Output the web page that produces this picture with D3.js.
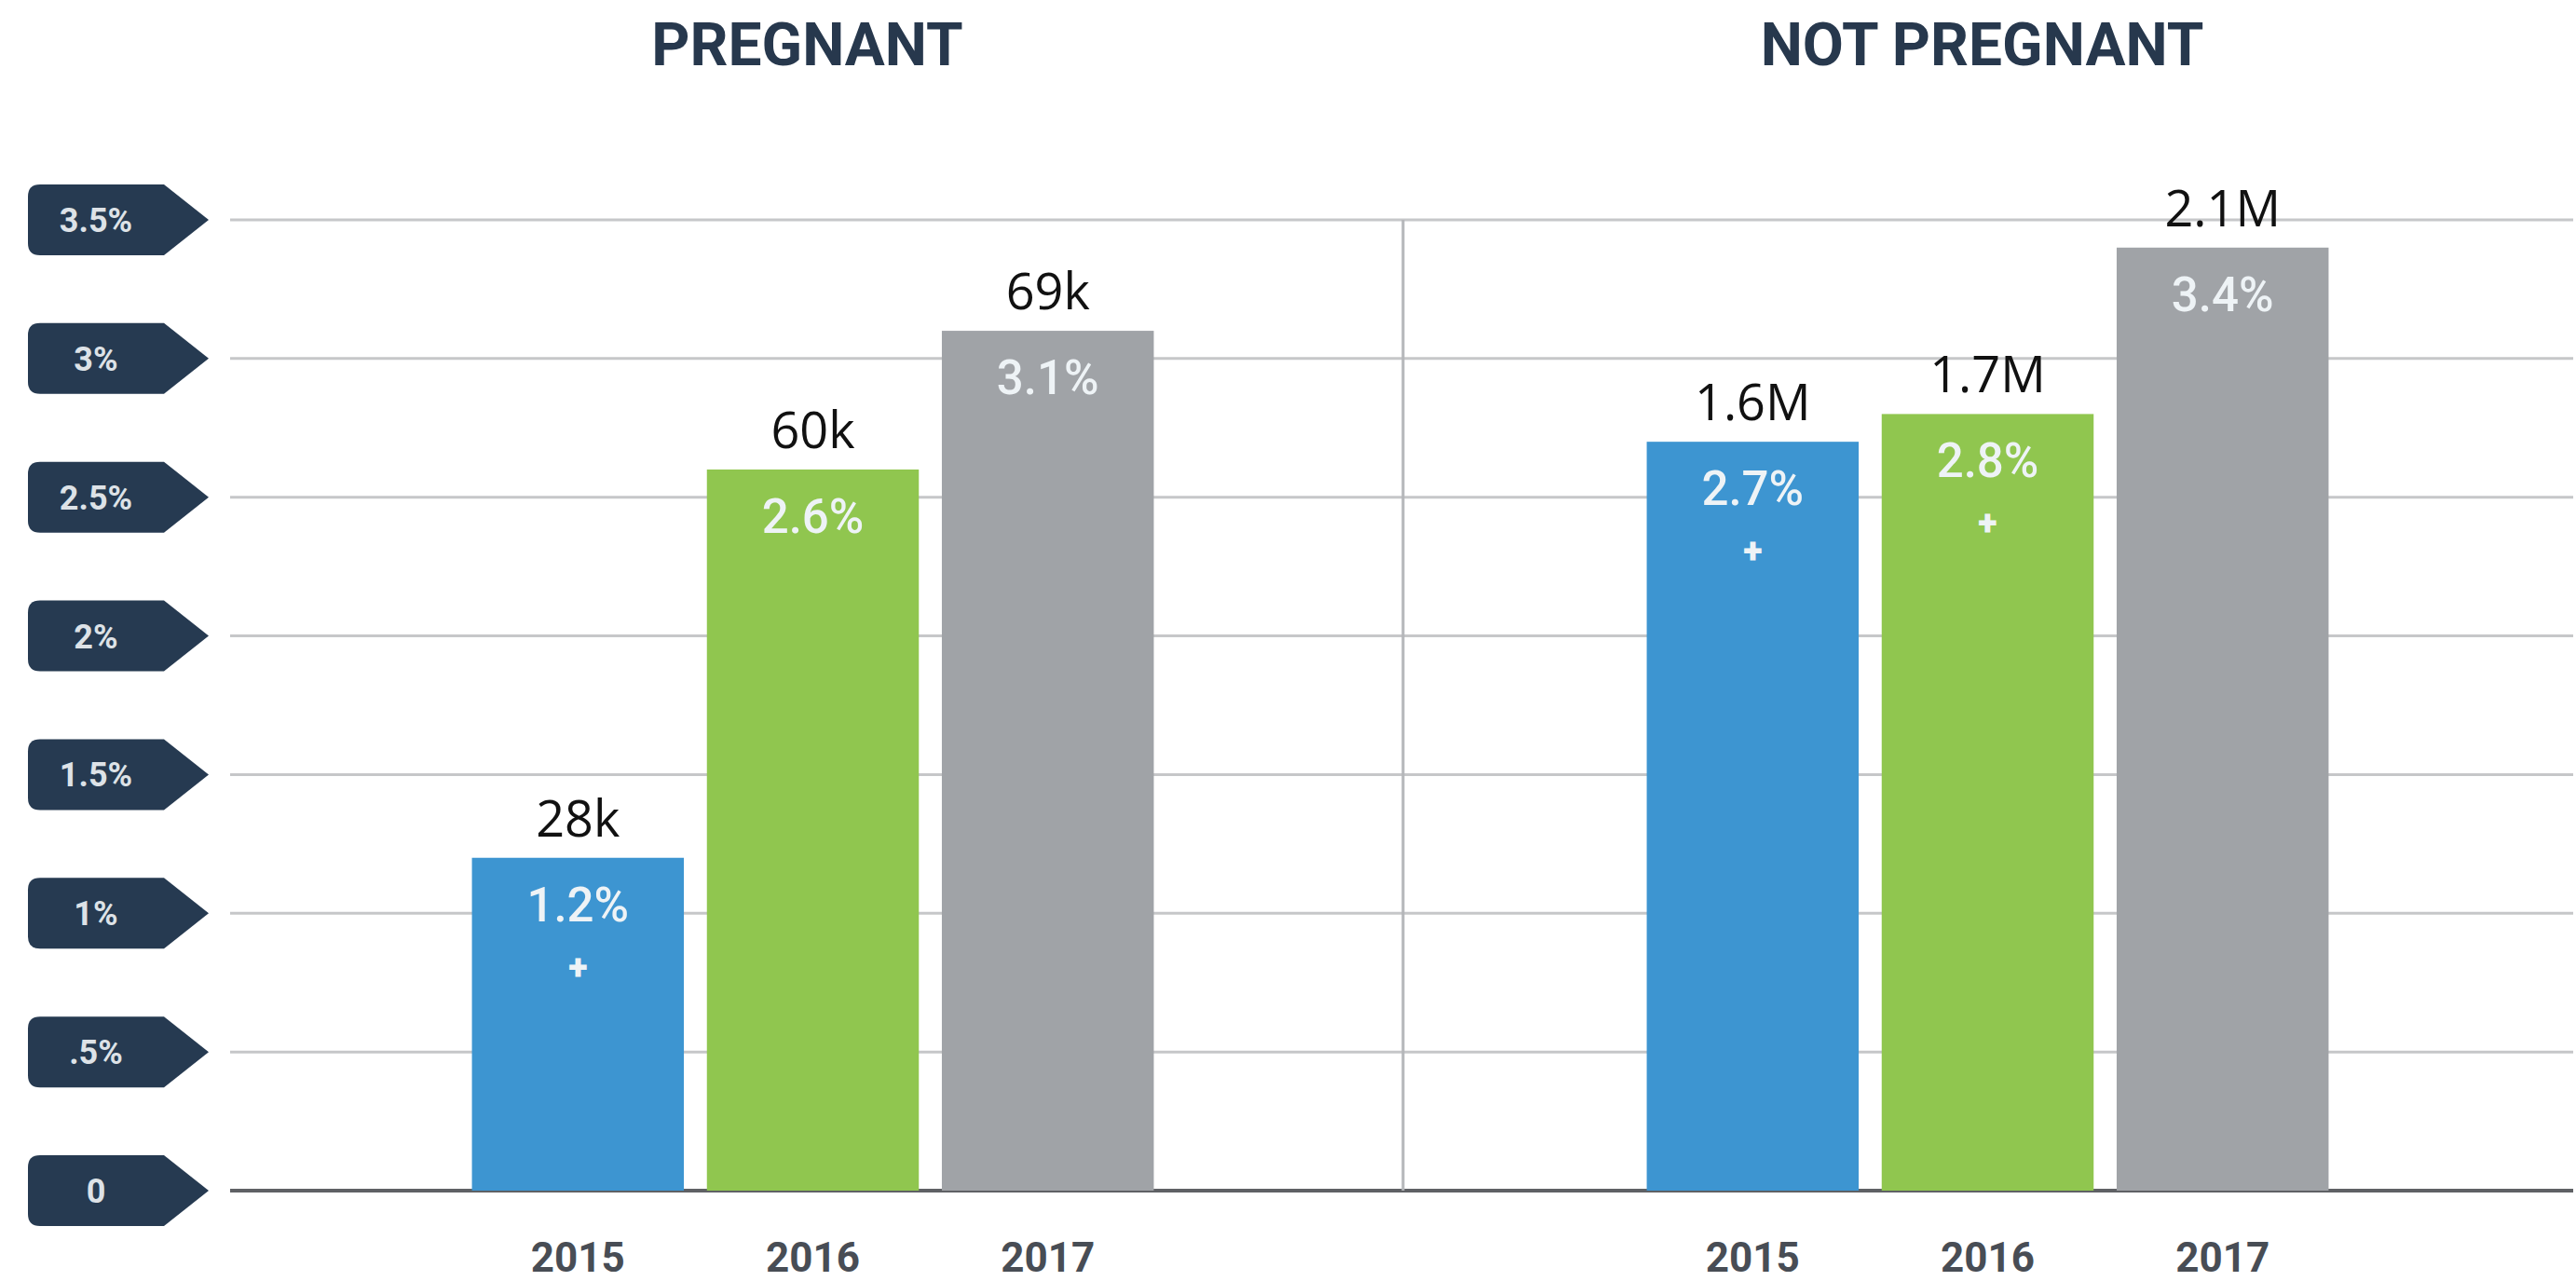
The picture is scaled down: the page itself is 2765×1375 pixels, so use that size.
<!DOCTYPE html>
<html lang="en">
	<head>
		<meta charset="utf-8">
		<title>D3: Pregnant vs not pregnant</title>
		<script type="text/javascript" src="https://cdn.jsdelivr.net/npm/d3@7"></script>
		<style type="text/css">
			body { margin: 0; background: #fff; }
			svg { display: block; }
		</style>
	</head>
	<body>
		<script type="text/javascript">

		//Data
		var groups = ["PREGNANT", "NOT PREGNANT"];
		var years = ["2015", "2016", "2017"];
		var pregnantPct = [1.2, 2.6, 3.1];
		var notPregnantPct = [2.7, 2.8, 3.4];
		var pregnantCount = ["28k", "60k", "69k"];
		var notPregnantCount = ["1.6M", "1.7M", "2.1M"];
		var pregnantPlus = [true, false, false];
		var notPregnantPlus = [true, true, false];
		var tickValues = [0, 0.5, 1, 1.5, 2, 2.5, 3, 3.5];
		var tickLabels = ["0", ".5%", "1%", "1.5%", "2%", "2.5%", "3%", "3.5%"];

		//Width and height
		var w = 2765;
		var h = 1375;

		var colors = { "2015": "#3d95d1", "2016": "#90c64f", "2017": "#a0a3a7" };

		//Build one table for the bars
		var data = [];
		years.forEach(function(yr, i) {
			data.push({ group: groups[0], year: yr, pct: pregnantPct[i], count: pregnantCount[i], plus: pregnantPlus[i] });
			data.push({ group: groups[1], year: yr, pct: notPregnantPct[i], count: notPregnantCount[i], plus: notPregnantPlus[i] });
		});

		var svg = d3.select("body")
					.append("svg")
					.attr("width", w)
					.attr("height", h);

		var y = d3.scaleLinear()
					.domain([0, 3.5])
					.range([1278, 236]);

		var x0 = d3.scaleBand()
					.domain(groups)
					.range([242, 2764]);

		var x1 = d3.scaleBand()
					.domain(years)
					.range([0, x0.bandwidth()])
					.paddingInner(0.098)
					.paddingOuter(1.049);

		//Gridlines
		svg.append("g")
			.selectAll("line")
			.data(tickValues)
			.enter()
			.append("line")
			.attr("x1", 247)
			.attr("x2", 2762)
			.attr("y1", function(d) { return y(d); })
			.attr("y2", function(d) { return y(d); })
			.attr("stroke", function(d) { return d === 0 ? "#5f6165" : "#c6c7c9"; })
			.attr("stroke-width", function(d) { return d === 0 ? 4 : 3; });

		//Divider between the two groups
		svg.append("line")
			.attr("x1", x0(groups[1]) + 3)
			.attr("x2", x0(groups[1]) + 3)
			.attr("y1", y(3.5))
			.attr("y2", y(0))
			.attr("stroke", "#b4b6b9")
			.attr("stroke-width", 3);

		//Tick tags
		function tagPath(cy) {
			var l = 30, b = 176, t = 224, hh = 38, r = 13;
			return "M" + (l + r) + "," + (cy - hh) +
				"L" + b + "," + (cy - hh) +
				"L" + t + "," + cy +
				"L" + b + "," + (cy + hh) +
				"L" + (l + r) + "," + (cy + hh) +
				"Q" + l + "," + (cy + hh) + " " + l + "," + (cy + hh - r) +
				"L" + l + "," + (cy - hh + r) +
				"Q" + l + "," + (cy - hh) + " " + (l + r) + "," + (cy - hh) + "Z";
		}

		var tags = svg.append("g")
					.selectAll("g.tag")
					.data(tickValues)
					.enter()
					.append("g")
					.attr("class", "tag");

		tags.append("path")
			.attr("d", function(d) { return tagPath(y(d)); })
			.attr("fill", "#263a51");

		tags.append("text")
			.attr("x", 103)
			.attr("y", function(d) { return y(d) + 13; })
			.attr("text-anchor", "middle")
			.attr("fill", "#dde2e7")
			.style("font-family", "Roboto, sans-serif")
			.style("font-weight", "700")
			.style("font-size", "36px")
			.text(function(d, i) { return tickLabels[i]; });

		//Group titles
		svg.append("g")
			.selectAll("text")
			.data(groups)
			.enter()
			.append("text")
			.attr("x", function(d) { return x0(d) + x0.bandwidth() / 2 - 6; })
			.attr("y", 70)
			.attr("text-anchor", "middle")
			.attr("fill", "#27384d")
			.style("font-family", "Roboto, sans-serif")
			.style("font-weight", "700")
			.style("font-size", "64px")
			.text(function(d) { return d; });

		//Bars
		var bars = svg.append("g")
					.selectAll("g.bar")
					.data(data)
					.enter()
					.append("g")
					.attr("class", "bar")
					.attr("transform", function(d) { return "translate(" + (x0(d.group) + x1(d.year)) + ",0)"; });

		bars.append("rect")
			.attr("x", 0)
			.attr("y", function(d) { return y(d.pct); })
			.attr("width", x1.bandwidth())
			.attr("height", function(d) { return y(0) - y(d.pct); })
			.attr("fill", function(d) { return colors[d.year]; });

		//Count labels above bars
		bars.append("text")
			.attr("x", x1.bandwidth() / 2)
			.attr("y", function(d) { return y(d.pct) - 23; })
			.attr("text-anchor", "middle")
			.attr("fill", "#111")
			.style("font-family", "'Open Sans', sans-serif")
			.style("font-size", "54px")
			.text(function(d) { return d.count; });

		//Percent labels inside bars
		bars.append("text")
			.attr("x", x1.bandwidth() / 2)
			.attr("y", function(d) { return y(d.pct) + 68; })
			.attr("text-anchor", "middle")
			.attr("fill", "#eef3f6")
			.style("font-family", "Roboto, sans-serif")
			.style("font-weight", "500")
			.style("font-size", "51px")
			.text(function(d) { return d.pct.toFixed(1) + "%"; });

		//Plus markers
		bars.filter(function(d) { return d.plus; })
			.append("text")
			.attr("x", x1.bandwidth() / 2)
			.attr("y", function(d) { return y(d.pct) + 130; })
			.attr("text-anchor", "middle")
			.attr("fill", "#eef3f6")
			.style("font-family", "Roboto, sans-serif")
			.style("font-weight", "900")
			.style("font-size", "38px")
			.text("+");

		//Year labels
		bars.append("text")
			.attr("x", x1.bandwidth() / 2)
			.attr("y", 1365)
			.attr("text-anchor", "middle")
			.attr("fill", "#484d55")
			.style("font-family", "Roboto, sans-serif")
			.style("font-weight", "700")
			.style("font-size", "44px")
			.text(function(d) { return d.year; });

		</script>
	</body>
</html>
